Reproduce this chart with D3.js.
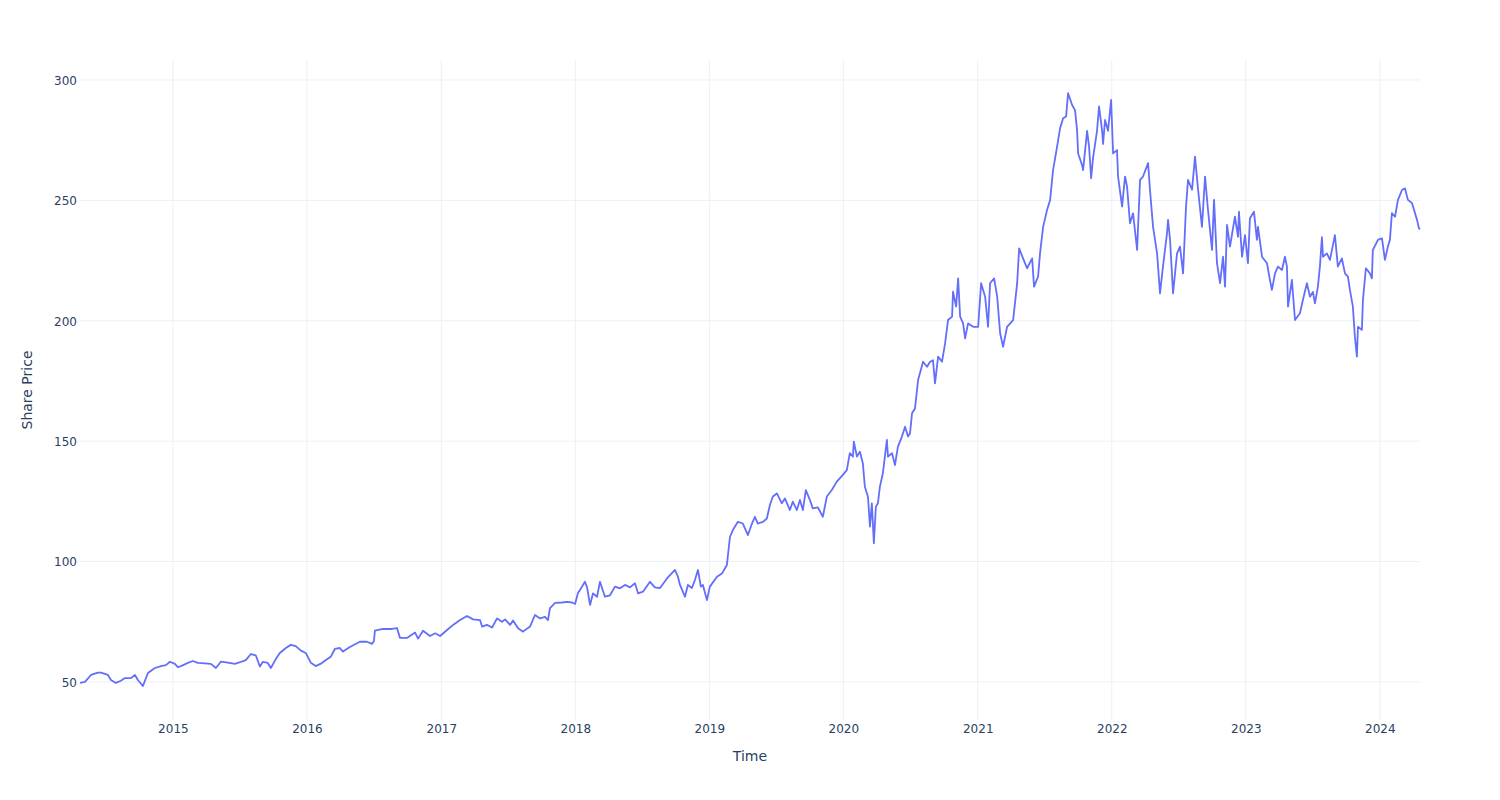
<!DOCTYPE html>
<html>
<head>
<meta charset="utf-8">
<script src="https://cdn.jsdelivr.net/npm/d3@7"></script>
<style>
  html, body { margin: 0; padding: 0; background: #fff; }
  svg { display: block; font-family: "DejaVu Sans", Verdana, sans-serif; }
</style>
</head>
<body>
<svg id="chart" width="1500" height="800"></svg>
<script>
// Decimal-year time stamps
const times = [
2014.307,2014.344,2014.389,2014.441,2014.463,2014.515,2014.538,2014.575,2014.612,2014.642,
2014.687,2014.717,2014.739,2014.776,2014.814,2014.866,2014.911,2014.948,2014.978,2015.015,
2015.037,2015.060,2015.112,2015.149,2015.186,2015.239,2015.283,2015.321,2015.358,2015.410,
2015.462,2015.507,2015.544,2015.582,2015.619,2015.649,2015.671,2015.708,2015.731,2015.768,
2015.798,2015.843,2015.880,2015.917,2015.955,2015.992,2016.029,2016.066,2016.104,2016.141,
2016.178,2016.208,2016.245,2016.268,2016.320,2016.394,2016.447,2016.484,2016.499,2016.506,
2016.566,2016.633,2016.670,2016.693,2016.745,2016.805,2016.827,2016.864,2016.916,2016.954,
2016.991,2017.043,2017.088,2017.140,2017.192,2017.237,2017.289,2017.304,2017.341,2017.379,
2017.416,2017.453,2017.476,2017.513,2017.535,2017.573,2017.610,2017.662,2017.699,2017.737,
2017.774,2017.796,2017.811,2017.849,2017.901,2017.938,2017.975,2017.998,2018.020,2018.035,
2018.072,2018.087,2018.110,2018.132,2018.162,2018.184,2018.221,2018.259,2018.296,2018.333,
2018.371,2018.408,2018.445,2018.468,2018.505,2018.557,2018.594,2018.632,2018.684,2018.743,
2018.766,2018.781,2018.818,2018.840,2018.870,2018.893,2018.915,2018.937,2018.952,2018.982,
2019.004,2019.057,2019.094,2019.131,2019.154,2019.176,2019.213,2019.250,2019.288,2019.318,
2019.340,2019.362,2019.400,2019.429,2019.452,2019.474,2019.504,2019.541,2019.564,2019.601,
2019.623,2019.653,2019.676,2019.698,2019.720,2019.750,2019.772,2019.810,2019.847,2019.877,
2019.914,2019.951,2019.996,2020.026,2020.048,2020.071,2020.078,2020.101,2020.123,2020.145,
2020.160,2020.183,2020.198,2020.212,2020.227,2020.242,2020.257,2020.272,2020.294,2020.324,
2020.332,2020.362,2020.384,2020.406,2020.436,2020.459,2020.481,2020.496,2020.511,2020.533,
2020.556,2020.593,2020.623,2020.645,2020.667,2020.682,2020.705,2020.734,2020.757,2020.779,
2020.809,2020.816,2020.839,2020.854,2020.869,2020.891,2020.906,2020.928,2020.966,2021.003,
2021.025,2021.055,2021.077,2021.092,2021.122,2021.145,2021.167,2021.189,2021.219,2021.242,
2021.264,2021.294,2021.309,2021.338,2021.368,2021.406,2021.420,2021.450,2021.465,2021.488,
2021.517,2021.540,2021.562,2021.592,2021.614,2021.637,2021.659,2021.674,2021.704,2021.726,
2021.741,2021.749,2021.778,2021.786,2021.816,2021.831,2021.846,2021.860,2021.890,2021.905,
2021.928,2021.935,2021.950,2021.972,2021.995,2022.010,2022.039,2022.047,2022.077,2022.084,
2022.099,2022.114,2022.136,2022.159,2022.189,2022.211,2022.233,2022.256,2022.271,2022.285,
2022.308,2022.338,2022.360,2022.382,2022.412,2022.420,2022.435,2022.457,2022.487,2022.509,
2022.532,2022.554,2022.569,2022.599,2022.621,2022.644,2022.673,2022.696,2022.718,2022.748,
2022.763,2022.785,2022.808,2022.830,2022.845,2022.860,2022.882,2022.919,2022.942,2022.949,
2022.972,2022.994,2023.016,2023.031,2023.061,2023.083,2023.091,2023.121,2023.158,2023.180,
2023.195,2023.218,2023.240,2023.270,2023.292,2023.307,2023.315,2023.344,2023.367,2023.404,
2023.426,2023.456,2023.479,2023.501,2023.516,2023.538,2023.553,2023.568,2023.576,2023.605,
2023.628,2023.665,2023.687,2023.717,2023.740,2023.762,2023.777,2023.799,2023.814,2023.829,
2023.837,2023.866,2023.874,2023.896,2023.926,2023.941,2023.948,2023.986,2024.016,2024.038,
2024.060,2024.075,2024.090,2024.113,2024.135,2024.165,2024.187,2024.209,2024.239,2024.277,
2024.291,2024.299
];
// Share prices
const prices = [
49.6,50.0,52.9,53.9,53.9,52.9,50.8,49.6,50.5,51.6,
51.6,52.9,50.8,48.3,53.7,55.8,56.6,57.0,58.4,57.5,
56.2,56.6,57.9,58.7,57.9,57.7,57.5,55.8,58.4,58.0,
57.5,58.3,59.1,61.6,61.0,56.4,58.3,57.9,55.8,59.5,
62.0,64.1,65.4,64.9,63.0,62.0,58.0,56.6,57.6,59.1,
60.5,63.7,64.1,62.6,64.5,66.7,66.7,65.8,67.0,71.3,
72.0,72.0,72.4,68.3,68.3,70.5,68.0,71.3,69.1,70.2,
69.1,71.6,73.7,75.7,77.4,76.0,75.7,73.0,73.7,72.6,
76.4,75.0,76.0,73.7,75.5,72.3,70.9,73.0,77.8,76.4,
77.0,75.7,80.7,82.8,83.0,83.3,83.0,82.4,87.0,88.2,
91.6,89.5,82.0,86.8,85.4,91.6,85.4,86.0,89.6,88.9,
90.3,89.3,91.0,86.8,87.5,91.6,89.3,89.0,93.0,96.5,
93.7,90.3,85.4,90.3,89.0,92.4,96.5,89.6,90.3,84.0,
89.6,93.7,95.0,98.6,110.3,113.1,116.5,115.8,111.0,115.8,
118.6,115.8,116.5,117.9,123.5,127.0,128.3,124.2,126.2,121.4,
124.9,121.4,125.6,121.4,129.7,125.6,122.1,122.5,118.6,127.0,
129.7,133.2,136.0,138.0,145.0,143.6,149.8,143.6,145.6,140.8,
131.1,126.9,114.5,124.2,107.6,122.8,124.2,131.1,136.7,150.5,
143.6,145.0,140.1,147.7,151.9,156.0,151.9,153.3,161.6,163.6,
175.4,183.0,180.9,183.0,183.6,174.0,185.1,183.0,190.6,200.3,
201.7,212.1,205.9,217.6,201.7,198.9,192.7,198.9,197.5,197.5,
215.6,210.0,197.5,215.6,217.6,210.0,194.8,189.2,197.5,198.9,
200.3,215.6,230.1,225.9,221.8,225.9,214.2,218.3,228.2,239.0,
246.0,250.2,262.6,272.3,279.9,284.1,284.8,294.5,289.6,287.5,
279.2,269.5,264.7,262.6,278.9,272.0,259.2,267.5,278.9,289.0,
278.9,273.4,283.4,278.9,291.7,269.5,270.9,259.9,247.4,251.5,
259.9,255.7,240.5,244.6,229.4,258.5,259.9,263.3,265.5,254.4,
239.0,228.0,211.4,222.5,236.3,241.9,233.6,211.4,228.0,230.8,
219.7,247.4,258.5,254.4,268.2,254.4,239.0,259.9,246.0,229.4,
250.2,223.9,215.6,226.6,214.2,239.8,230.8,243.2,234.9,245.3,
226.6,235.6,223.9,242.6,245.3,233.6,239.0,226.6,223.9,217.0,
212.8,219.7,222.5,221.1,226.6,222.5,205.9,217.0,200.3,203.1,
208.6,215.6,210.0,212.0,207.2,214.2,222.5,234.7,226.6,228.0,
225.3,235.6,222.5,225.9,219.7,218.3,212.8,205.9,193.4,185.1,
197.5,196.2,208.6,221.8,219.7,217.6,229.4,233.6,234.2,225.3,
230.8,233.6,244.7,243.2,250.2,254.3,255.0,250.2,248.9,241.9,
238.4,238.0
];
const yTickValues = [50, 100, 150, 200, 250, 300];
const xTickYears = [2015, 2016, 2017, 2018, 2019, 2020, 2021, 2022, 2023, 2024];
const xTitle = "Time";
const yTitle = "Share Price";

function toDate(t) {
  const y = Math.floor(t);
  const a = new Date(y, 0, 1).getTime();
  const b = new Date(y + 1, 0, 1).getTime();
  return new Date(a + (t - y) * (b - a));
}
const data = times.map((t, i) => ({ date: toDate(t), value: prices[i] }));

const W = 1500, H = 800;
const margin = { left: 80, right: 80, top: 60, bottom: 80 };
const svg = d3.select("#chart");

const x = d3.scaleTime()
  .domain(d3.extent(data, d => d.date))
  .range([margin.left, W - margin.right]);
const y = d3.scaleLinear()
  .domain([34.2, 308.3])
  .range([H - margin.bottom, margin.top]);

const grid = "#EBF0F8";
const textColor = "#2a3f5f";
const xTicks = xTickYears.map(yr => new Date(yr, 0, 1));

// vertical grid
svg.append("g").selectAll("line").data(xTicks).join("line")
  .attr("x1", d => x(d)).attr("x2", d => x(d))
  .attr("y1", margin.top).attr("y2", H - margin.bottom)
  .attr("stroke", grid).attr("stroke-width", 1);
// horizontal grid
svg.append("g").selectAll("line").data(yTickValues).join("line")
  .attr("x1", margin.left).attr("x2", W - margin.right)
  .attr("y1", d => y(d)).attr("y2", d => y(d))
  .attr("stroke", grid).attr("stroke-width", 1);

// x axis labels
const xAxis = d3.axisBottom(x).tickValues(xTicks).tickFormat(d3.timeFormat("%Y")).tickSize(0).tickPadding(0);
const gx = svg.append("g").attr("transform", `translate(0,${H - margin.bottom})`).call(xAxis);
gx.select(".domain").remove();
gx.selectAll("text").attr("dy", null).attr("y", 13)
  .attr("font-size", 12).attr("font-family", "DejaVu Sans, Verdana, sans-serif").attr("fill", textColor);

// y axis labels
const yAxis = d3.axisLeft(y).tickValues(yTickValues).tickSize(0).tickPadding(0);
const gy = svg.append("g").attr("transform", `translate(${margin.left - 3},0)`).call(yAxis);
gy.select(".domain").remove();
gy.selectAll("text").attr("dy", "0.36em").attr("x", 0)
  .attr("font-size", 12).attr("font-family", "DejaVu Sans, Verdana, sans-serif").attr("fill", textColor);

// line
const line = d3.line().x(d => x(d.date)).y(d => y(d.value));
svg.append("path").datum(data)
  .attr("d", line)
  .attr("fill", "none")
  .attr("stroke", "#636efa")
  .attr("stroke-width", 1.8)
  .attr("stroke-linejoin", "round");

// axis titles
svg.append("text")
  .attr("x", (margin.left + W - margin.right) / 2).attr("y", 761)
  .attr("text-anchor", "middle").attr("font-size", 14).attr("fill", textColor)
  .text(xTitle);
svg.append("text")
  .attr("transform", `translate(32,${(margin.top + H - margin.bottom) / 2}) rotate(-90)`)
  .attr("text-anchor", "middle").attr("font-size", 14).attr("fill", textColor)
  .text(yTitle);
</script>
</body>
</html>
